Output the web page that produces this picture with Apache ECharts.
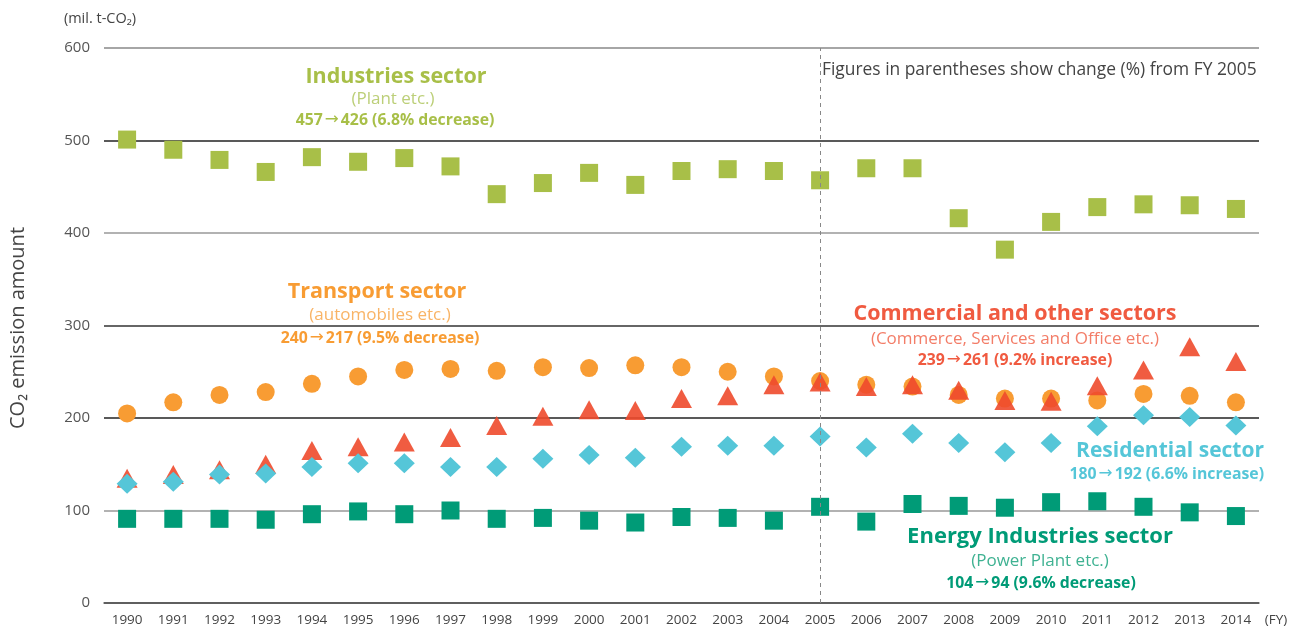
<!DOCTYPE html>
<html>
<head>
<meta charset="utf-8">
<script src="https://cdn.jsdelivr.net/npm/echarts@6/dist/echarts.min.js"></script>
<style>
  html, body { margin: 0; padding: 0; background: #fff; }
  #chart { width: 1290px; height: 628px; }
</style>
</head>
<body>
<div id="chart"></div>
<script>
const years = ['1990', '1991', '1992', '1993', '1994', '1995', '1996', '1997', '1998', '1999',
    '2000', '2001', '2002', '2003', '2004', '2005', '2006', '2007', '2008', '2009',
    '2010', '2011', '2012', '2013', '2014']

const industries = [501, 490, 479, 466, 482, 477, 481, 472, 442, 454,
    465, 452, 467, 469, 467, 457, 470, 470, 416, 382,
    412, 428, 431, 430, 426]
const transport = [205, 217, 225, 228, 237, 245, 252, 253, 251, 255,
    254, 257, 255, 250, 245, 240, 236, 234, 225, 221,
    221, 219, 226, 224, 217]
const commercial = [135, 139, 144, 150, 165, 169, 174, 179, 192, 202,
    209, 208, 221, 224, 236, 239, 234, 236, 230, 219,
    218, 235, 252, 277, 261]
const residential = [129, 131, 139, 140, 147, 151, 151, 147, 147, 156,
    160, 157, 169, 170, 170, 180, 168, 183, 173, 163,
    173, 191, 203, 201, 192]
const energy = [91, 91, 91, 90, 96, 99, 96, 100, 91, 92,
    89, 87, 93, 92, 89, 104, 88, 107, 105, 103,
    109, 110, 104, 98, 94]

const FONT = 'Open Sans'
const C = {
    ind: '#A8BF48', indLight: '#BCCF78',
    en: '#009B77', enLight: '#3FB292',
    tr: '#F89C33', trLight: '#F9B466',
    co: '#F05A40', coLight: '#F37D68',
    re: '#55C6D8', reLight: '#72CFDE'
}

function txt(x, y, text, size, color, weight, align) {
    return {
        type: 'text', x: x, y: y, silent: true,
        style: {
            text: text, fill: color,
            fontSize: size, fontFamily: FONT, fontWeight: weight || 'normal',
            textAlign: align || 'center', textVerticalAlign: 'middle',
            rich: {
                a: { fontFamily: 'DejaVu Sans', fontWeight: 'normal', fontSize: size + 1, fill: color, padding: [0, 2, 0, 2] }
            }
        }
    }
}

let chart = echarts.init(document.getElementById('chart'))
let option = {
    animation: false,
    textStyle: { fontFamily: FONT },
    grid: { left: 104, right: 31, top: 48, bottom: 25 },
    xAxis: {
        type: 'category',
        data: years,
        axisLine: { lineStyle: { color: '#555', width: 1.5 } },
        axisTick: { inside: true, length: 7, lineStyle: { color: '#555' } },
        axisLabel: { color: '#444', fontSize: 13.5, margin: 10 }
    },
    yAxis: {
        type: 'value',
        min: 0, max: 600, interval: 100,
        name: '(mil. t-CO₂)',
        nameLocation: 'end',
        nameGap: 22,
        nameTextStyle: { color: '#444', fontSize: 14.5, align: 'center', padding: [0, 8, 0, 0] },
        axisLine: { show: false },
        axisTick: { show: false },
        axisLabel: { color: '#555', fontSize: 15, margin: 14 },
        splitLine: { lineStyle: { color: ['#555', '#999', '#222', '#333', '#999', '#222', '#888'], width: 1.5 } }
    },
    series: [
        {
            name: 'Industries sector', type: 'scatter', data: industries,
            symbol: 'rect', symbolSize: 18, itemStyle: { color: C.ind, opacity: 1 },
            markLine: {
                silent: true, symbol: 'none', label: { show: false },
                lineStyle: { color: '#888', type: [4, 4], width: 1 },
                data: [{ xAxis: '2005' }]
            }
        },
        {
            name: 'Energy Industries sector', type: 'scatter', data: energy,
            symbol: 'rect', symbolSize: 18, itemStyle: { color: C.en, opacity: 1 }
        },
        {
            name: 'Transport sector', type: 'scatter', data: transport,
            symbol: 'circle', symbolSize: 18, itemStyle: { color: C.tr, opacity: 1 }
        },
        {
            name: 'Commercial and other sectors', type: 'scatter', data: commercial,
            symbol: 'triangle', symbolSize: [21, 19], itemStyle: { color: '#EE4A2C', opacity: 0.9 }
        },
        {
            name: 'Residential sector', type: 'scatter', data: residential,
            symbol: 'diamond', symbolSize: [21, 20], itemStyle: { color: C.re, opacity: 1 }
        }
    ],
    graphic: [
        {
            type: 'text', x: 18, y: 328, rotation: Math.PI / 2, silent: true,
            style: {
                text: 'CO₂ emission amount', fill: '#444', fontSize: 20, fontFamily: FONT,
                textAlign: 'center', textVerticalAlign: 'middle'
            }
        },
        txt(1276, 620, '(FY)', 13.5, '#444'),
        txt(822, 70, 'Figures in parentheses show change (%) from FY 2005', 17.4, '#444', 'normal', 'left'),

        txt(396, 77, 'Industries sector', 21.5, C.ind, 'bold'),
        txt(393, 99, '(Plant etc.)', 17, C.indLight),
        txt(395, 120, '457{a|→}426 (6.8% decrease)', 15.8, C.ind, 'bold'),

        txt(377, 292, 'Transport sector', 21.5, C.tr, 'bold'),
        txt(380, 315, '(automobiles etc.)', 17, C.trLight),
        txt(380, 338, '240{a|→}217 (9.5% decrease)', 15.8, C.tr, 'bold'),

        txt(1015, 314, 'Commercial and other sectors', 21.5, C.co, 'bold'),
        txt(1015, 339, '(Commerce, Services and Office etc.)', 17, C.coLight),
        txt(1015, 360, '239{a|→}261 (9.2% increase)', 15.8, C.co, 'bold'),

        txt(1264, 451, 'Residential sector', 21, C.re, 'bold', 'right'),
        txt(1264, 474, '180{a|→}192 (6.6% increase)', 15.8, C.re, 'bold', 'right'),

        txt(1040, 537, 'Energy Industries sector', 22, C.en, 'bold'),
        txt(1040, 561, '(Power Plant etc.)', 17, C.enLight),
        txt(1041, 583, '104{a|→}94 (9.6% decrease)', 15.8, C.en, 'bold')
    ]
}
chart.setOption(option)
window.addEventListener('resize', () => {
    chart.resize()
})
</script>
</body>
</html>
